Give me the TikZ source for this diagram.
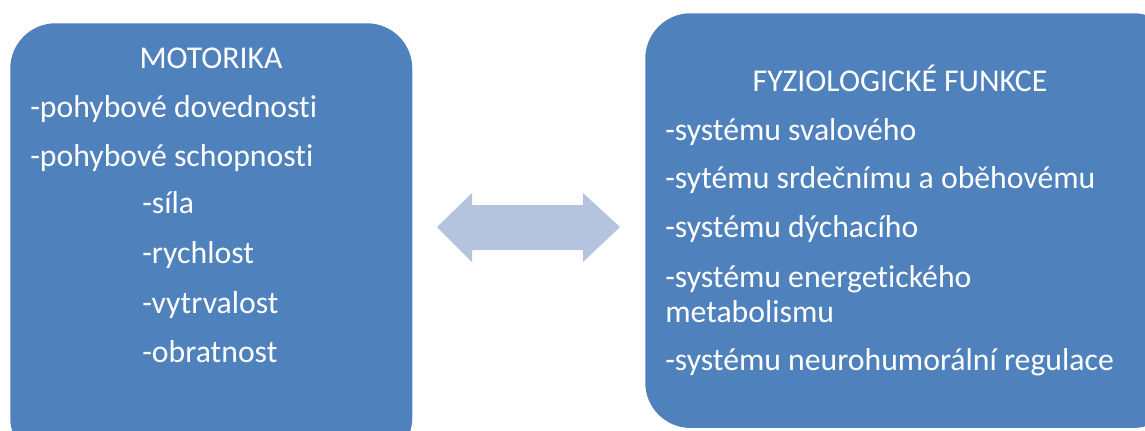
\documentclass[tikz,border=0pt]{standalone}
\usepackage{fontspec}
\setmainfont{Carlito}[Ligatures=NoCommon]
\definecolor{boxblue}{HTML}{4F81BD}
\definecolor{arrowblue}{HTML}{B4C4DF}

\begin{document}
\begin{tikzpicture}[x=0.75pt,y=-0.75pt,
  panel/.style={fill=boxblue, rounded corners=34pt, inner sep=0pt, anchor=north west},
  head/.style={anchor=base, text=white, inner sep=0pt, font=\fontsize{23.8}{28}\selectfont},
  item/.style={anchor=base west, text=white, inner sep=0pt, font=\fontsize{23.8}{28}\selectfont}]
\useasboundingbox (0,0) rectangle (1145,430);
\clip (0,0) rectangle (1145,430);

% the two panels
\node[panel, minimum width=301.5pt, minimum height=330pt] (motorika) at (10,23) {};
\node[panel, minimum width=400pt, minimum height=311pt] (fyziologie) at (645,13) {};

% left panel
\node[head] (motTitle) at (211,68) {MOTORIKA};
\node[item] (dovednosti) at (30,117) {-pohybové dovednosti};
\node[item] (schopnosti) at (30,166) {-pohybové schopnosti};
\node[item] (sila) at (142,213) {-síla};
\node[item] (rychlost) at (142,263) {-rychlost};
\node[item] (vytrvalost) at (142,313) {-vytrvalost};
\node[item] (obratnost) at (142,362) {-obratnost};

% right panel
\node[head] (fyzTitle) at (900,91) {FYZIOLOGICKÉ FUNKCE};
\node[item] (svalovy) at (665,140) {-systému svalového};
\node[item] (srdecni) at (665,188) {-sytému srdečnímu a oběhovému};
\node[item] (dychaci) at (665,237) {-systému dýchacího};
\node[item] (energeticky) at (665,287) {-systému energetického};
\node[item] (metabolismus) at (665,322) {metabolismu};
\node[item] (neuro) at (665,370) {-systému neurohumorální regulace};

% double arrow between panels
\fill[arrowblue] (437,227) -- (472,193) -- (472,205) -- (583,205) -- (583,193)
  -- (620,227) -- (583,262) -- (583,250) -- (472,250) -- (472,262) -- cycle;
\end{tikzpicture}
\end{document}
